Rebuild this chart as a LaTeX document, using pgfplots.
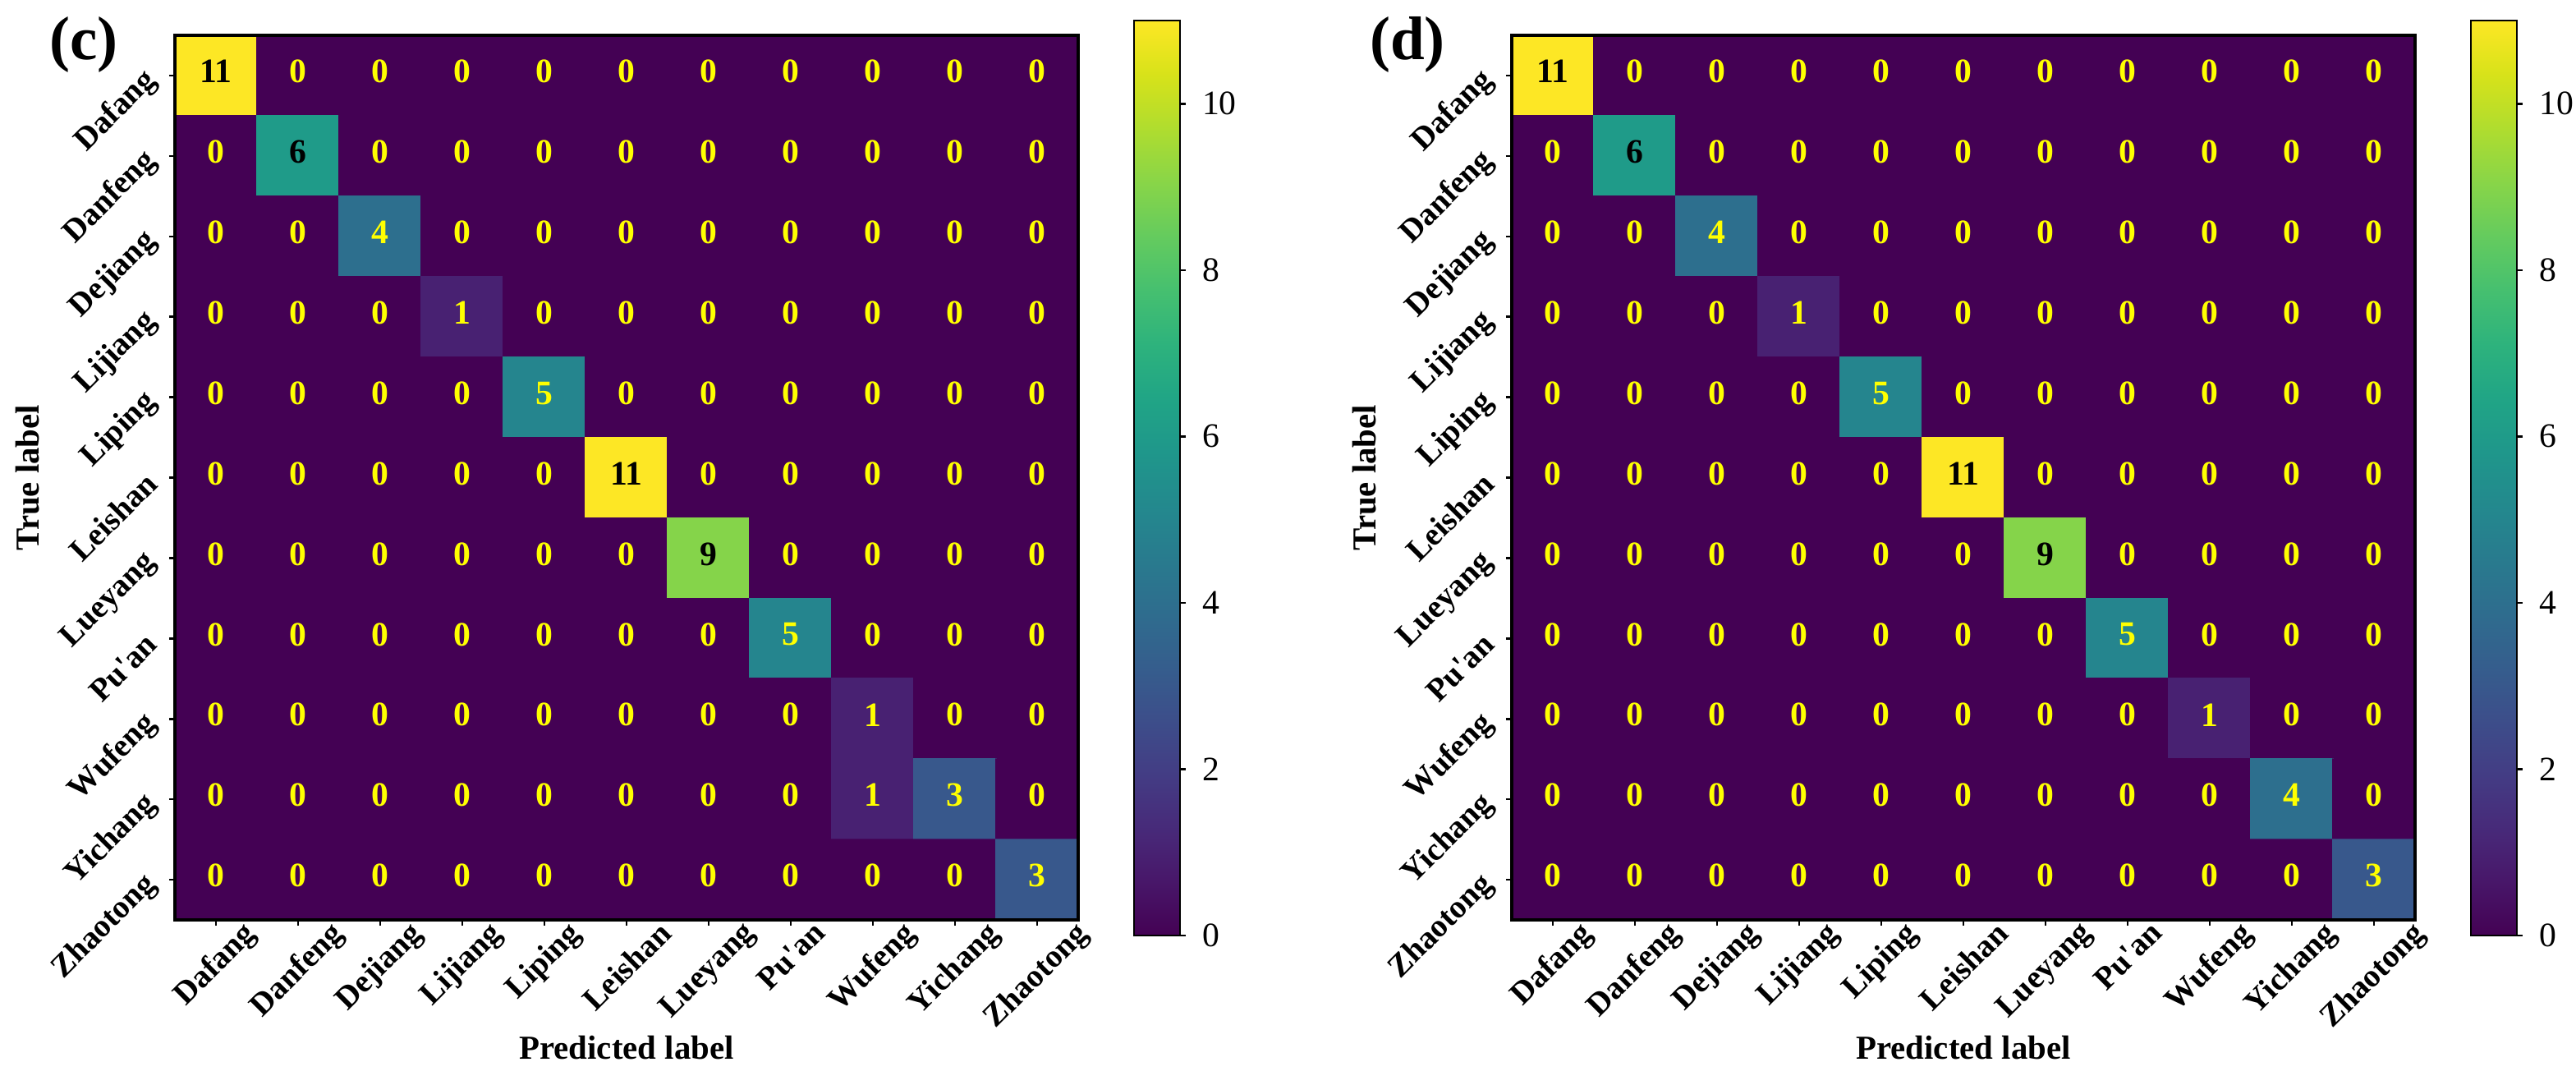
\documentclass[border=0pt]{standalone}
\usepackage{fontspec}
\setmainfont{Liberation Serif}
\usepackage{graphicx}
\usepackage{pgfplots}
\usepackage{pgfplotstable}
\pgfplotsset{compat=1.18}
\definecolor{ylw}{RGB}{255,255,0}
\newcommand\fs[1]{\fontsize{#1}{#1}\selectfont}

\pgfplotstableread[row sep=\\]{
x y c\\
0 0 11\\ 1 0 0\\ 2 0 0\\ 3 0 0\\ 4 0 0\\ 5 0 0\\ 6 0 0\\ 7 0 0\\ 8 0 0\\ 9 0 0\\ 10 0 0\\
0 1 0\\ 1 1 6\\ 2 1 0\\ 3 1 0\\ 4 1 0\\ 5 1 0\\ 6 1 0\\ 7 1 0\\ 8 1 0\\ 9 1 0\\ 10 1 0\\
0 2 0\\ 1 2 0\\ 2 2 4\\ 3 2 0\\ 4 2 0\\ 5 2 0\\ 6 2 0\\ 7 2 0\\ 8 2 0\\ 9 2 0\\ 10 2 0\\
0 3 0\\ 1 3 0\\ 2 3 0\\ 3 3 1\\ 4 3 0\\ 5 3 0\\ 6 3 0\\ 7 3 0\\ 8 3 0\\ 9 3 0\\ 10 3 0\\
0 4 0\\ 1 4 0\\ 2 4 0\\ 3 4 0\\ 4 4 5\\ 5 4 0\\ 6 4 0\\ 7 4 0\\ 8 4 0\\ 9 4 0\\ 10 4 0\\
0 5 0\\ 1 5 0\\ 2 5 0\\ 3 5 0\\ 4 5 0\\ 5 5 11\\ 6 5 0\\ 7 5 0\\ 8 5 0\\ 9 5 0\\ 10 5 0\\
0 6 0\\ 1 6 0\\ 2 6 0\\ 3 6 0\\ 4 6 0\\ 5 6 0\\ 6 6 9\\ 7 6 0\\ 8 6 0\\ 9 6 0\\ 10 6 0\\
0 7 0\\ 1 7 0\\ 2 7 0\\ 3 7 0\\ 4 7 0\\ 5 7 0\\ 6 7 0\\ 7 7 5\\ 8 7 0\\ 9 7 0\\ 10 7 0\\
0 8 0\\ 1 8 0\\ 2 8 0\\ 3 8 0\\ 4 8 0\\ 5 8 0\\ 6 8 0\\ 7 8 0\\ 8 8 1\\ 9 8 0\\ 10 8 0\\
0 9 0\\ 1 9 0\\ 2 9 0\\ 3 9 0\\ 4 9 0\\ 5 9 0\\ 6 9 0\\ 7 9 0\\ 8 9 1\\ 9 9 3\\ 10 9 0\\
0 10 0\\ 1 10 0\\ 2 10 0\\ 3 10 0\\ 4 10 0\\ 5 10 0\\ 6 10 0\\ 7 10 0\\ 8 10 0\\ 9 10 0\\ 10 10 3\\
}\cmC

\pgfplotstableread[row sep=\\]{
x y c\\
0 0 11\\ 1 0 0\\ 2 0 0\\ 3 0 0\\ 4 0 0\\ 5 0 0\\ 6 0 0\\ 7 0 0\\ 8 0 0\\ 9 0 0\\ 10 0 0\\
0 1 0\\ 1 1 6\\ 2 1 0\\ 3 1 0\\ 4 1 0\\ 5 1 0\\ 6 1 0\\ 7 1 0\\ 8 1 0\\ 9 1 0\\ 10 1 0\\
0 2 0\\ 1 2 0\\ 2 2 4\\ 3 2 0\\ 4 2 0\\ 5 2 0\\ 6 2 0\\ 7 2 0\\ 8 2 0\\ 9 2 0\\ 10 2 0\\
0 3 0\\ 1 3 0\\ 2 3 0\\ 3 3 1\\ 4 3 0\\ 5 3 0\\ 6 3 0\\ 7 3 0\\ 8 3 0\\ 9 3 0\\ 10 3 0\\
0 4 0\\ 1 4 0\\ 2 4 0\\ 3 4 0\\ 4 4 5\\ 5 4 0\\ 6 4 0\\ 7 4 0\\ 8 4 0\\ 9 4 0\\ 10 4 0\\
0 5 0\\ 1 5 0\\ 2 5 0\\ 3 5 0\\ 4 5 0\\ 5 5 11\\ 6 5 0\\ 7 5 0\\ 8 5 0\\ 9 5 0\\ 10 5 0\\
0 6 0\\ 1 6 0\\ 2 6 0\\ 3 6 0\\ 4 6 0\\ 5 6 0\\ 6 6 9\\ 7 6 0\\ 8 6 0\\ 9 6 0\\ 10 6 0\\
0 7 0\\ 1 7 0\\ 2 7 0\\ 3 7 0\\ 4 7 0\\ 5 7 0\\ 6 7 0\\ 7 7 5\\ 8 7 0\\ 9 7 0\\ 10 7 0\\
0 8 0\\ 1 8 0\\ 2 8 0\\ 3 8 0\\ 4 8 0\\ 5 8 0\\ 6 8 0\\ 7 8 0\\ 8 8 1\\ 9 8 0\\ 10 8 0\\
0 9 0\\ 1 9 0\\ 2 9 0\\ 3 9 0\\ 4 9 0\\ 5 9 0\\ 6 9 0\\ 7 9 0\\ 8 9 0\\ 9 9 4\\ 10 9 0\\
0 10 0\\ 1 10 0\\ 2 10 0\\ 3 10 0\\ 4 10 0\\ 5 10 0\\ 6 10 0\\ 7 10 0\\ 8 10 0\\ 9 10 0\\ 10 10 3\\
}\cmD

\pgfplotsset{
  cmstyle/.style={
    scale only axis, width=264pt, height=258.48pt,
    xmin=-0.5, xmax=10.5, ymin=-0.5, ymax=10.5, y dir=reverse,
    axis on top, axis line style={line width=0.8pt},
    colormap name=viridis, point meta min=0, point meta max=11,
    xtick={0,...,10}, ytick={0,...,10},
    xticklabels={\rotatebox{45}{Dafang},\rotatebox{45}{Danfeng},\rotatebox{45}{Dejiang},\rotatebox{45}{Lijiang},\rotatebox{45}{Liping},\rotatebox{45}{Leishan},\rotatebox{45}{Lueyang},\rotatebox{45}{Pu\textquotesingle an},\rotatebox{45}{Wufeng},\rotatebox{45}{Yichang},\rotatebox{45}{Zhaotong}},
    yticklabels={Dafang,Danfeng,Dejiang,Lijiang,Liping,Leishan,Lueyang,Pu\textquotesingle an,Wufeng,Yichang,Zhaotong},
    tick align=outside, major tick length=1.7pt, tick style={line width=0.6pt, black},
    xtick pos=bottom, ytick pos=left,
    xticklabel style={font=\bfseries\fs{9.4}, anchor=north, inner sep=0pt},
    xticklabel shift=-2pt,
    yticklabel style={font=\bfseries\fs{9.4}, rotate=45, anchor=east, inner sep=0pt},
    yticklabel shift=5pt,
    xlabel={Predicted label}, ylabel={True label},
    label style={font=\bfseries\fs{9.8}},
    xlabel style={at={(axis description cs:0.5,-0.1578)}, anchor=base},
    ylabel style={at={(axis description cs:-0.1509,0.5)}, anchor=base},
    colorbar,
    colorbar style={
      scale only axis, width=13.44pt, height=267.36pt,
      at={(parent axis.north east)}, anchor=north west, xshift=7.8pt, yshift=4.32pt,
      ytick={0,2,4,6,8,10}, ytick pos=right, yticklabel pos=right,
      tick align=outside, major tick length=1.7pt, tick style={line width=0.6pt, black},
      yticklabel style={font=\fs{10}, inner sep=0pt, anchor=west, /pgf/number format/assume math mode=true},
      yticklabel shift=4.6pt,
      axis line style={line width=0.5pt},
    },
  },
  txtstyle/.style={
    draw=none, mark=none,
    point meta=explicit symbolic,
    nodes near coords={\ifdim\pgfplotspointmeta pt>5.5pt\color{black}\else\color{ylw}\fi\pgfplotspointmeta},
    every node near coord/.append style={font=\bfseries\fs{10}, anchor=center, yshift=1.2pt, inner sep=0pt},
  },
}

\begin{document}
\begin{tikzpicture}
\path[use as bounding box] (0pt,0pt) rectangle (752.88pt,-316.8pt);
\begin{axis}[cmstyle, at={(51.12pt,-10.32pt)}, anchor=north west]
  \addplot[matrix plot*, mesh/cols=11, point meta=explicit] table[meta=c] {\cmC};
  \addplot[txtstyle] table[meta=c] {\cmC};
\end{axis}
\begin{axis}[cmstyle, at={(441.84pt,-10.32pt)}, anchor=north west]
  \addplot[matrix plot*, mesh/cols=11, point meta=explicit] table[meta=c] {\cmD};
  \addplot[txtstyle] table[meta=c] {\cmD};
\end{axis}
\node[anchor=base, font=\bfseries\fs{18}] at (24.48pt,-17.28pt) {(c)};
\node[anchor=base, font=\bfseries\fs{18}] at (411.36pt,-17.28pt) {(d)};
\end{tikzpicture}
\end{document}
